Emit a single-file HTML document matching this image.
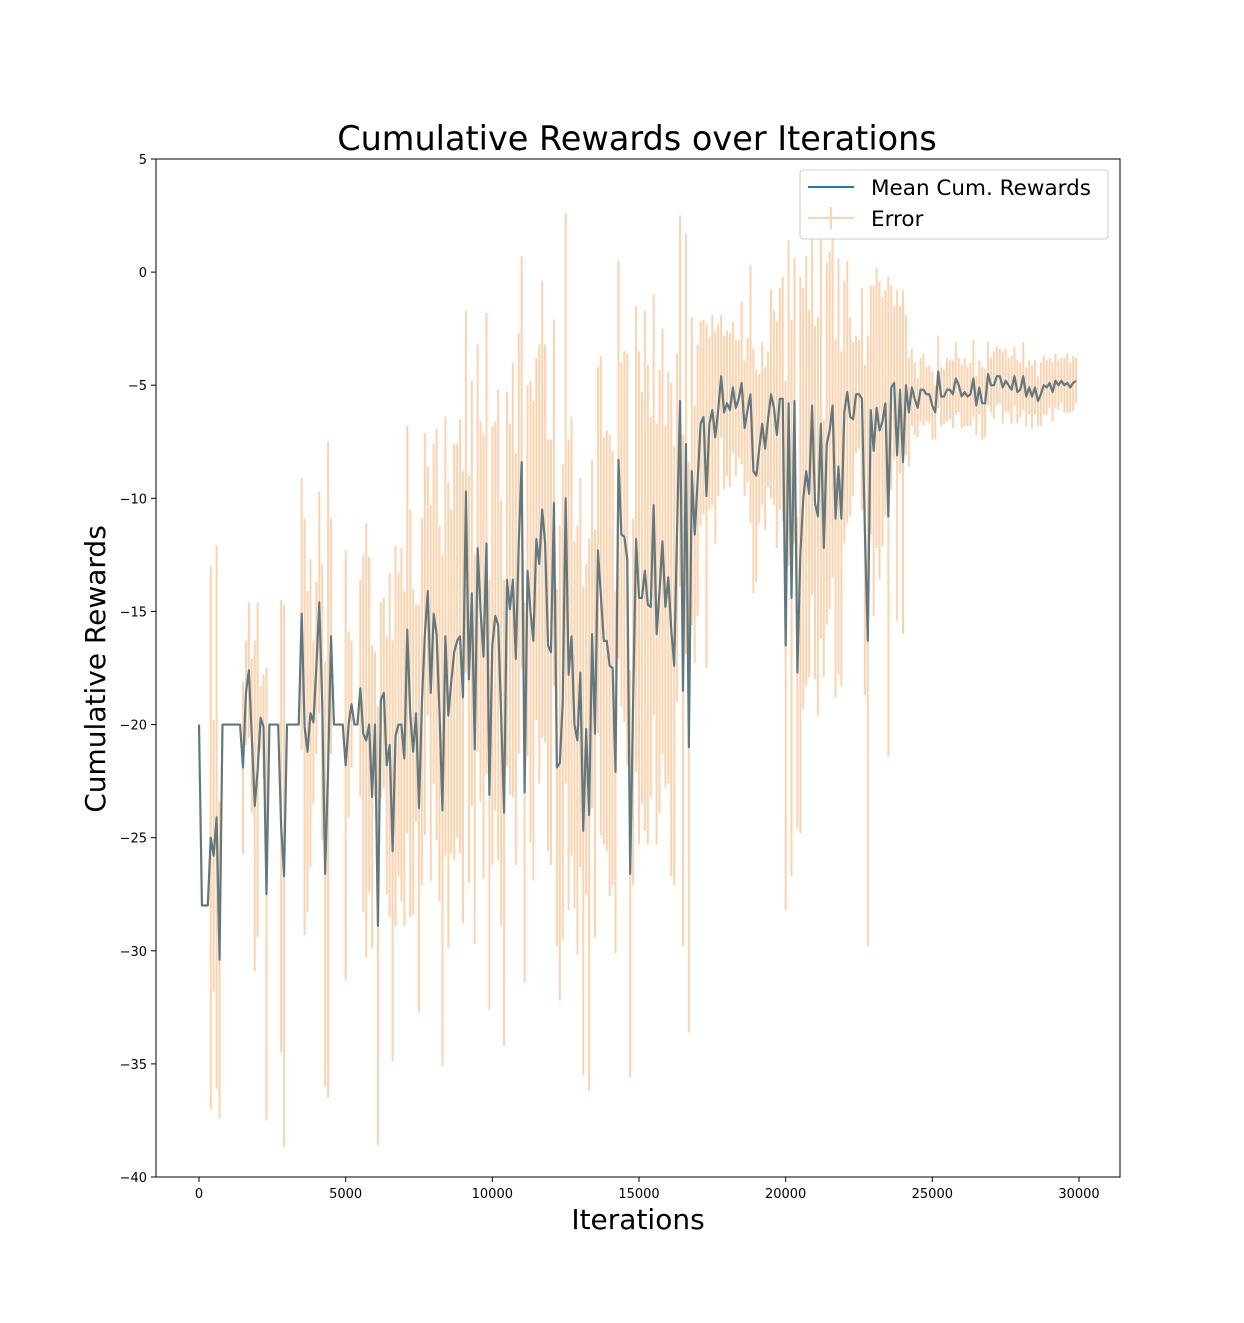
<!DOCTYPE html>
<html><head><meta charset="utf-8"><style>
html,body{margin:0;padding:0;background:#fff}
svg{display:block;font-family:"DejaVu Sans","Liberation Sans",sans-serif}
</style></head><body>
<svg id="chart" width="1244" height="1323" viewBox="0 0 1244 1323" xmlns="http://www.w3.org/2000/svg">
<rect width="1244" height="1323" fill="#fff"/>
<text x="637" y="150" font-size="33.5" text-anchor="middle">Cumulative Rewards over Iterations</text>
<g id="errs"></g>
<g id="lines"></g>
<rect x="156" y="159" width="964" height="1018" fill="none" stroke="#000" stroke-width="1"/>
<g id="xt"></g>
<g id="yt"></g>
<text x="638" y="1229" font-size="28" text-anchor="middle">Iterations</text>
<text transform="translate(105,669) rotate(-90)" font-size="28" text-anchor="middle">Cumulative Rewards</text>
<g>
<rect x="800" y="170" width="308" height="69" rx="3" fill="#fff" stroke="#ccc"/>
<line x1="808" y1="187" x2="854" y2="187" stroke="#1f77b4" stroke-width="2"/>
<text x="871" y="195" font-size="21.5">Mean Cum. Rewards</text>
<line x1="808" y1="218" x2="854" y2="218" stroke="#ffd2ad" stroke-width="2"/>
<line x1="831" y1="207" x2="831" y2="229" stroke="#ffd2ad" stroke-width="2"/>
<text x="871" y="226" font-size="21.5">Error</text>
</g>
</svg>
<script>
const step = 100;
const meanValues = [
-20,-28,-28,-28,-25,-25.8,-24.1,-30.4,-20,-20,
-20,-20,-20,-20,-20,-21.9,-18.6,-17.6,-20.5,-23.6,
-22,-19.7,-20.1,-27.5,-20,-20,-20,-20,-24.5,-26.7,
-20,-20,-20,-20,-20,-15.1,-20.1,-21.2,-19.5,-19.9,
-17.5,-14.6,-19,-26.6,-22,-16.1,-20,-20,-20,-20,
-21.8,-20,-19.1,-20,-20,-18.4,-20.4,-20.7,-20,-23.2,
-20,-28.9,-18.9,-18.6,-21.8,-20.9,-25.6,-20.5,-20,-20,
-21.5,-15.8,-19.5,-21.2,-19.5,-23.7,-19,-16,-14.1,-18.6,
-15.1,-16.0,-19.5,-23.8,-16.1,-19.6,-18.1,-16.8,-16.3,-16.1,
-18.8,-9.7,-18.0,-14.2,-21.1,-12.2,-15,-17.0,-12.0,-23.1,
-16.5,-15.2,-15.6,-19.5,-23.9,-13.6,-14.9,-13.6,-17.1,-12,
-8.4,-23.0,-13.2,-15.0,-16.3,-11.8,-12.9,-10.5,-12,-16.5,
-16.8,-10.2,-21.9,-21.7,-19,-10.0,-17.8,-16.1,-20.0,-20.7,
-17.7,-24.7,-20.2,-24.0,-16.0,-20.4,-12.3,-14.3,-16.3,-16.3,
-17.4,-17.5,-22.1,-8.3,-11.6,-11.7,-12.7,-26.6,-19,-11.8,
-14.4,-14.4,-13.2,-14.7,-14.8,-10.3,-16.0,-14.1,-11.9,-14.8,
-13.5,-15.8,-17.4,-11.3,-5.7,-18.5,-7.6,-21,-8.8,-11.6,
-9.2,-6.7,-6.4,-9.9,-6.7,-6.1,-7.3,-6.1,-4.6,-6.2,
-5.8,-6.1,-5.1,-6,-5.6,-4.9,-6.9,-6.1,-5.4,-8.8,
-9.0,-7.8,-6.7,-7.8,-6.5,-5.4,-6,-7.2,-5.6,-5.6,
-16.5,-5.8,-14.4,-5.7,-17.7,-12.5,-10,-8.8,-9.8,-5.9,
-10.2,-10.8,-6.7,-12.2,-7.6,-7.0,-5.9,-10.9,-8.6,-10.9,
-6.2,-5.3,-6.4,-6.5,-5.4,-5.4,-5.6,-11.4,-16.3,-6.1,
-7.9,-6.0,-7.0,-6.6,-5.8,-10.8,-5.1,-4.9,-8.1,-5.2,
-8.4,-5.0,-6.2,-5.1,-5.6,-6.0,-5.2,-5.2,-5.4,-5.4,
-5.9,-6.2,-4.4,-5.5,-5.5,-5.2,-5.2,-5.4,-4.7,-5,
-5.5,-5.3,-5.5,-5.4,-4.7,-5.9,-5.1,-5.8,-5.8,-4.5,
-5,-5,-4.6,-4.6,-5.1,-4.8,-5,-5.2,-4.6,-5.3,
-5.2,-4.6,-5.5,-5.1,-5.5,-5.1,-5.7,-5.4,-5,-5.1,
-4.9,-5.3,-4.8,-5,-4.8,-5.0,-4.9,-5.1,-4.9,-4.8];
const errValues = [
0,0,0,0,12,6,12,7,0,0,
0,0,0,0,0,3.8,2.3,3,3.4,7.3,
7.4,1.4,2.3,10,0,0,0,0,10,12,
0,0,0,0,0,6,9.2,7.1,6.8,3.6,
3.8,4.9,6.1,9.4,14.5,5.2,0,0,0,0,
9.5,4.1,2.8,0,0,4.8,7.9,9.6,7.4,6.7,
3.2,9.7,4.3,4.2,5.7,7.6,9.3,8.4,6.7,7.8,
7.4,9,9,7.2,4.8,9,8.1,8.9,5.5,8.3,
7.5,9.1,8.3,11.3,9.7,10.3,7.6,9.2,8.7,9.6,
10,8,9,9.4,8.6,9,8.4,9.8,10.2,9.5,
9.7,8.6,10.4,9.4,10.3,8.3,8.2,9.6,9.1,9.3,
9.1,8.4,8.2,10.2,10.6,8,9.7,10.1,8.8,9.1,
9.4,8.1,7.9,10.5,10.5,12.6,10.4,9.7,8.1,9.5,
8.6,10.8,7.3,12.2,7.7,9,8.1,10.6,9,9.3,
10.2,9.6,8,8.8,7.6,8.2,9.1,9,8.1,10.3,
10.9,9.1,11.5,10.6,8.4,9.3,9.3,9.8,9.4,8,
9.1,10.9,9.7,7.7,8.2,11.3,9.3,12.6,6.8,5.7,
6,4.5,4.3,7.6,3.8,4.2,4.7,3.8,2.7,3.4,
3.2,3.4,2.9,3,2.6,3.6,3,3.2,5.7,5.4,
4.7,3.3,3.6,3.6,3,4.6,4.3,5,4.9,5.4,
11.7,7.2,12.3,6.3,6.9,12.3,9.3,9.5,8.1,8.4,
7.8,8.8,9.5,5.7,8,7.9,7.6,7.9,9.2,7.4,
5.8,5.8,4.4,3.4,2.6,2.4,4.9,7.3,13.5,5.5,
7.3,6.2,6.6,5.5,5,10.6,4.5,3.4,7.3,3.7,
7.6,3.1,2.4,1.7,1.6,1.3,1.4,1.6,1.2,1.3,
1.5,1.2,1.6,1.3,1.2,1.4,1.3,1.5,1.6,1.2,
1.4,1.5,1.3,1.4,1.7,1.3,1.2,1.6,1.5,1.4,
1.2,1.5,1.3,1.2,1.6,1.4,1.2,1.5,1.3,1.4,
1.2,1.5,1.3,1.2,1.4,1.2,1.1,1.4,1.3,1.2,
1.1,1.3,1.2,1.1,1.0,1.2,1.3,1.1,1.2,1.0];
const xTicks = [0,5000,10000,15000,20000,25000,30000];
const yTicks = [5,0,-5,-10,-15,-20,-25,-30,-35,-40];

const NS = "http://www.w3.org/2000/svg";
const X0=156, X1=1120, Y0=159, Y1=1177;
const xMin=-1466, xMax=31398, yMin=-40, yMax=5;
function sx(v){return X0+(v-xMin)/(xMax-xMin)*(X1-X0);}
function sy(v){return Y1-(v-yMin)/(yMax-yMin)*(Y1-Y0);}
function mk(tag, attrs, parent){const e=document.createElementNS(NS,tag);for(const k in attrs)e.setAttribute(k,attrs[k]);parent.appendChild(e);return e;}

const errs=document.getElementById('errs');
meanValues.forEach((m,i)=>{
  const e=errValues[i]; if(!e) return;
  const x=sx(i*step);
  const l=mk('line',{x1:x,x2:x,y1:sy(m+e),y2:sy(m-e),stroke:'#ffd2ad','stroke-width':2},errs);
  
  
});
const lines=document.getElementById('lines');
const pts=meanValues.map((m,i)=>sx(i*step).toFixed(2)+','+sy(m).toFixed(2)).join(' ');
const pl=mk('polyline',{points:pts,fill:'none',stroke:'#5f7981','stroke-width':2.2,'stroke-linejoin':'round'},lines);



const xt=document.getElementById('xt');
xTicks.forEach(v=>{
  const x=sx(v);
  mk('line',{x1:x,x2:x,y1:Y1,y2:Y1+5,stroke:'#000'},xt);
  const t=mk('text',{x:x,y:Y1+21,'font-size':13,'text-anchor':'middle'},xt);
  t.textContent=v;
  
  
});
const yt=document.getElementById('yt');
yTicks.forEach(v=>{
  const y=sy(v);
  mk('line',{x1:X0-5,x2:X0,y1:y,y2:y,stroke:'#000'},yt);
  const t=mk('text',{x:X0-9,y:y+5,'font-size':13,'text-anchor':'end'},yt);
  t.textContent=v<0?'\u2212'+(-v):String(v);
  
  
});
</script>
</body></html>
